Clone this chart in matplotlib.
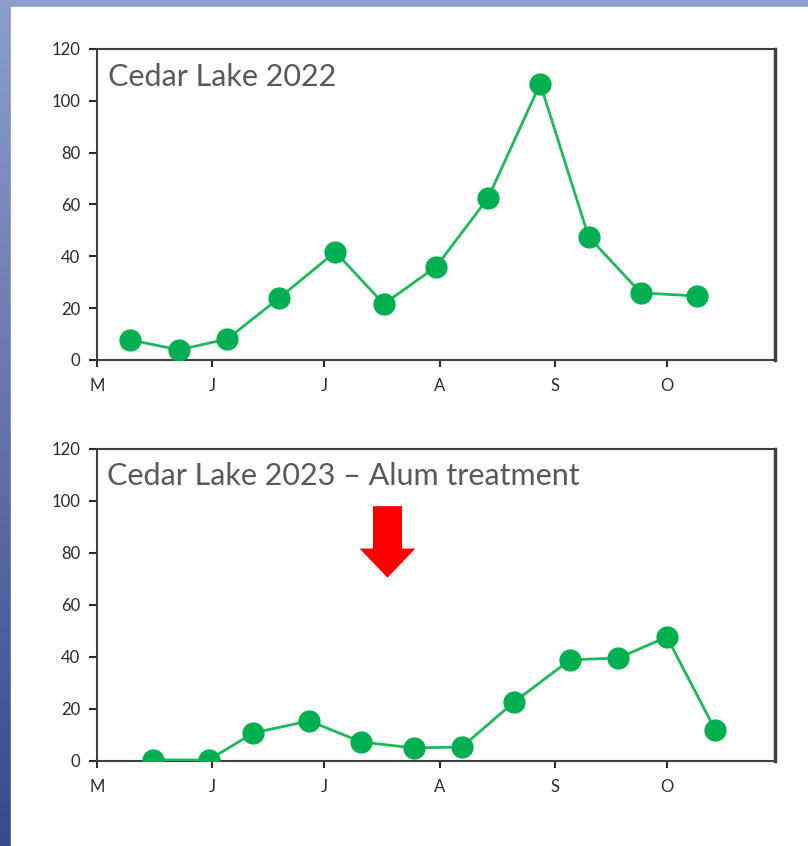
import numpy as np
import pandas as pd
import matplotlib
matplotlib.use("Agg")
import matplotlib.pyplot as plt
import matplotlib.dates as mdates
from matplotlib.patches import FancyArrow, Rectangle

plt.rcParams['font.family'] = ['Lato', 'DejaVu Sans']

# sampling dates and values
dates_2022 = ['2022-05-10', '2022-05-23', '2022-06-05', '2022-06-19', '2022-07-04', '2022-07-17',
              '2022-07-31', '2022-08-14', '2022-08-28', '2022-09-10', '2022-09-24', '2022-10-09']
vals_2022 = [7.7, 3.9, 8.1, 24.0, 41.7, 21.6, 35.9, 62.5, 106.6, 47.5, 25.9, 24.7]

dates_2023 = ['2023-05-16', '2023-05-31', '2023-06-12', '2023-06-27', '2023-07-11', '2023-07-25',
              '2023-08-07', '2023-08-21', '2023-09-05', '2023-09-18', '2023-10-01', '2023-10-14']
vals_2023 = [0.4, 0.4, 10.8, 15.4, 7.3, 5.0, 5.4, 22.7, 38.9, 39.6, 47.7, 11.9]

titles = ['Cedar Lake 2022', 'Cedar Lake 2023 \u2013 Alum treatment']
month_letters = ['M', 'J', 'J', 'A', 'S', 'O']
treatment_date = '2023-07-18'

green = '#00b050'

fig = plt.figure(figsize=(8.08, 8.46), dpi=100)

# blue gradient frame with white slide area
bg = fig.add_axes([0, 0, 1, 1], zorder=-10)
grad = np.linspace(0, 1, 256).reshape(-1, 1)
top_c = np.array([0x8d, 0x9d, 0xcc]) / 255
bot_c = np.array([0x36, 0x4b, 0x8a]) / 255
img = top_c[None, None, :] * (1 - grad[:, :, None]) + bot_c[None, None, :] * grad[:, :, None]
bg.imshow(img, aspect='auto', extent=[0, 1, 0, 1], origin='upper')
bg.add_patch(Rectangle((11 / 808, 0), 1, 1 - 7 / 846, color='white'))
bg.set_xlim(0, 1)
bg.set_ylim(0, 1)
bg.axis('off')

ax1 = fig.add_axes([0.120, 0.5745, 0.839, 0.3676])
ax2 = fig.add_axes([0.120, 0.1005, 0.839, 0.3688])

series = [(ax1, dates_2022, vals_2022, 2022), (ax2, dates_2023, vals_2023, 2023)]
for ax, d, v, yr in series:
    x = pd.to_datetime(d)
    ax.plot(x, v, color='#1fb95c', lw=2, zorder=3)
    ax.plot(x, v, ls='none', marker='o', ms=15, mfc=green, mec=green, zorder=4)
    ax.set_xlim(pd.Timestamp(f'{yr}-05-01'), pd.Timestamp(f'{yr}-10-30'))
    ax.set_ylim(0, 120)
    ax.set_yticks(np.arange(0, 121, 20))
    ticks = pd.date_range(f'{yr}-05-01', periods=6, freq='MS')
    ax.set_xticks(ticks)
    ax.set_xticklabels(month_letters)
    ax.tick_params(axis='y', length=6, width=1.5, pad=6, labelsize=12, colors='#2b2b2b')
    ax.tick_params(axis='x', length=5, width=1.5, pad=8, labelsize=12, colors='#2b2b2b')
    for s in ax.spines.values():
        s.set_linewidth(1.5)
        s.set_color('#404040')
    ax.spines['right'].set_linewidth(2.5)

ax1.text(0.017, 0.91, titles[0], transform=ax1.transAxes, fontsize=22, color='#595959',
         ha='left', va='center')
ax2.text(0.015, 0.912, titles[1], transform=ax2.transAxes, fontsize=22, color='#595959',
         ha='left', va='center')

# red arrow marking the alum treatment
tx = mdates.date2num(pd.Timestamp(treatment_date))
ax2.add_patch(FancyArrow(tx, 98, 0, -27.5, width=7.8, head_width=15, head_length=11.2,
                         length_includes_head=True, color='#ff0000', lw=0, zorder=4))

fig.savefig('out.png', dpi=100)
